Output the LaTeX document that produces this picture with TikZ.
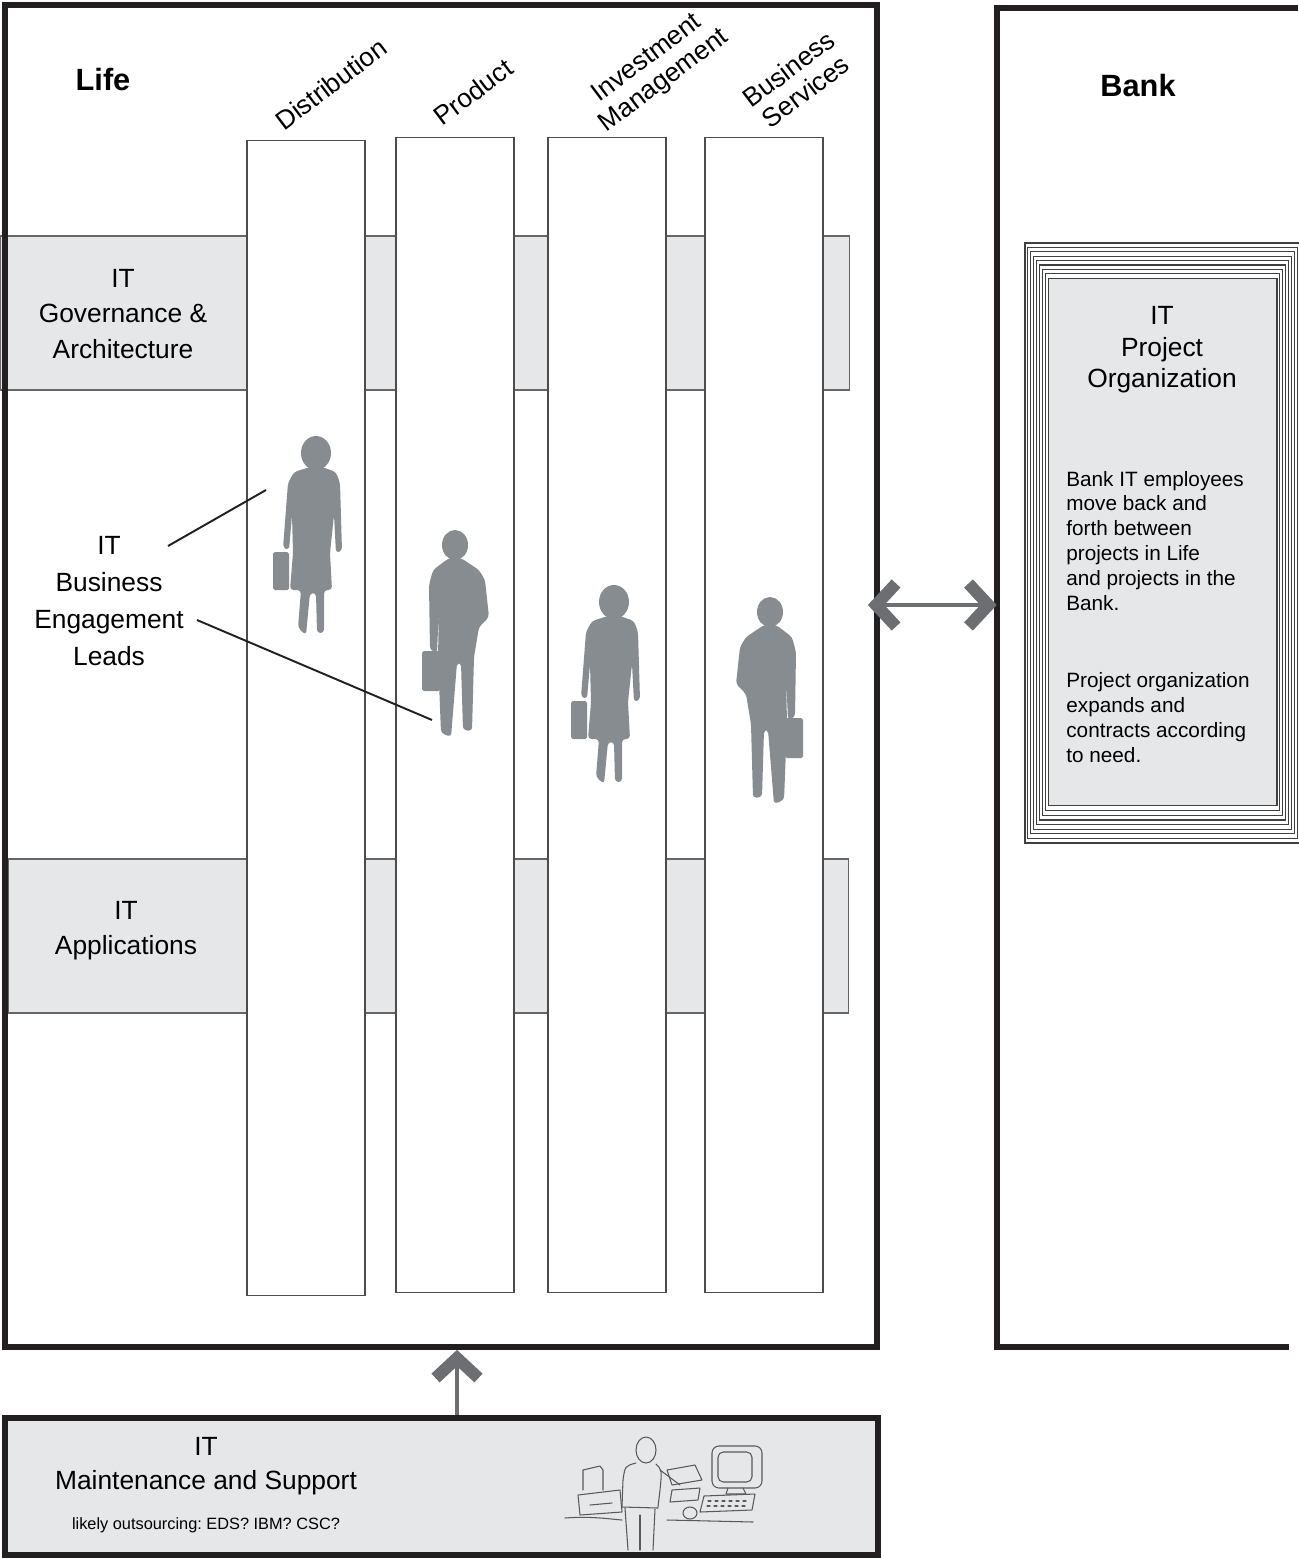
\documentclass[tikz,border=0pt]{standalone}
\usepackage{fontspec}
\setmainfont{Liberation Sans}
\usetikzlibrary{arrows.meta,positioning,calc}

\definecolor{bandgray}{HTML}{E6E7E8}
\definecolor{figgray}{HTML}{878C91}
\definecolor{arrowgray}{HTML}{6D6E71}
\definecolor{framek}{HTML}{231F20}
\definecolor{sketchk}{HTML}{58595B}

\tikzset{
  frame/.style = {draw=framek, line width=3.4pt, inner sep=0},
  band/.style  = {draw=black!60, fill=bandgray, line width=0.6pt,
                  minimum height=3.08cm, inner sep=0},
  col/.style   = {draw=black!70, fill=white, line width=0.6pt,
                  minimum width=2.36cm, minimum height=23.12cm, inner sep=0},
  head/.style  = {font=\fontsize{15}{20}\selectfont, align=center},
  note/.style  = {font=\fontsize{11.8}{14.2}\selectfont, align=left},
  title/.style = {font=\fontsize{17.5}{20}\selectfont\bfseries},
  tag/.style   = {font=\fontsize{15}{16}\selectfont, align=center, rotate=37},
  ring/.style  = {draw=black!75, line width=0.6pt},
  lead/.style  = {draw=framek, line width=1.1pt},
  chev/.tip    = {Straight Barb[length=4mm, width=8.6mm, line width=2.4mm]},
  ar/.style    = {draw=arrowgray, line width=2.8pt},
  sketch/.style= {draw=sketchk, line width=0.6pt, line cap=round, line join=round},
  % walking figures, origin at the head
  woman/.pic = {
    \fill[figgray] (0,0) ellipse [x radius=15, y radius=17];
    \fill[figgray, rounded corners=2pt]
      (-6,14) -- (-22,19) -- (-28,30) -- (-33,95) -- (-27,97) -- (-24,62)
      -- (-23,100) -- (-26,137) -- (-15,137) -- (-18,175) -- (-10,182)
      -- (-6,140) -- (0,140) -- (1,180) -- (8,180) -- (8,137) -- (16,137)
      -- (14,100) -- (18,62) -- (20,100) -- (26,98) -- (24,30) -- (20,19)
      -- (6,14) -- cycle;
    \fill[figgray, rounded corners=1pt] (-43,99) rectangle (-27,137);
  },
  man/.pic = {
    \fill[figgray] (0,0) ellipse [x radius=13, y radius=15];
    \fill[figgray, rounded corners=2pt]
      (-6,13) -- (-22,25) -- (-26,40) -- (-25,105) -- (-18,108) -- (-16,62)
      -- (-17,112) -- (-14,188) -- (-4,192) -- (2,118) -- (6,118)
      -- (8,185) -- (17,186) -- (19,112) -- (24,82) -- (34,72) -- (30,35)
      -- (24,25) -- (6,13) -- cycle;
    \fill[figgray, rounded corners=1pt] (-33,106) rectangle (-15,146);
  }
}

\begin{document}
\frenchspacing
\begin{tikzpicture}[x=0.02cm, y=-0.02cm]
  \useasboundingbox (0,0) rectangle (1298,1558);

  % horizontal IT bands behind the columns
  \node[band, minimum width=17cm]    (gov)  at (425,313) {};
  \node[band, minimum width=16.82cm] (apps) at (428.5,936) {};

  % business columns
  \node[col] (dist) at (306,718) {};
  \node[col] (prod) at (455,715) {};
  \node[col] (inv)  at (607,715) {};
  \node[col] (bus)  at (764,715) {};

  \node[tag] (disttag) at (331,84) {Distribution};
  \node[tag] (prodtag) at (473,92) {Product};
  \node[tag] (invtag)  at (656,70) {Investment\\Management};
  \node[tag] (bustag)  at (797,80) {Business\\Services};

  % Life frame
  \node[frame, minimum width=17.44cm, minimum height=26.84cm] (life) at (441,676) {};
  \node[title] (lifetitle) at (103,80) {Life};

  \node[head] (govtext)  at (123,314) {IT\\Governance \&\\Architecture};
  \node[head] (appstext) at (126,931) {IT\\Applications};
  \node[head, font=\fontsize{15}{21}\selectfont] (leads) at (109,601)
    {IT\\Business\\Engagement\\Leads};

  % engagement leads walking through the columns
  \pic at (316,453) {woman};
  \pic at (455,545) {man};
  \pic at (614,602) {woman};
  \pic[xscale=-1] at (770,612) {man};

  \coordinate (l1a) at (168,546);
  \coordinate (l1b) at (266,490);
  \coordinate (l2a) at (197,620);
  \coordinate (l2b) at (432,720);
  \draw[lead] (l1a) -- (l1b);
  \draw[lead] (l2a) -- (l2b);

  % Bank, open to the right
  \node[minimum width=6.02cm, minimum height=26.78cm, inner sep=0] (bank) at (1147.5,677.5) {};
  \draw[frame] (bank.north east) -- (bank.north west) -- (bank.south west) -- ++(292,0);
  \node[title] (banktitle) at (1138,86) {Bank};

  % project organization, stacked frames
  \foreach \i in {0,...,7}
    \draw[ring] ({1025+2.9*\i},{243+4.4*\i}) rectangle ({1300-2.9*\i},{843-4.6*\i});
  \node[ring, fill=bandgray, minimum width=4.58cm, minimum height=10.56cm] (proj) at (1162.5,542) {};
  \node[head, font=\fontsize{15}{18}\selectfont] (projtitle) at (1162,350) {IT\\Project\\Organization};
  \node[note, anchor=west, inner sep=0] (projnote1) at (1066,541)
    {Bank IT employees\\move back and\\forth between\\projects in Life\\and projects in the\\Bank.};
  \node[note, anchor=west, inner sep=0] (projnote2) at (1066,718)
    {Project organization\\expands and\\contracts according\\to need.};

  \coordinate (swap) at (0,605);
  \draw[ar, chev-chev, shorten <=-0.24cm] (life.east |- swap) -- (bank.west |- swap);

  % maintenance and support
  \node[frame, fill=bandgray, minimum width=17.46cm, minimum height=2.74cm] (maint) at (441.5,1486.5) {};
  \node[head] (mainttitle) at (206,1446) {IT};
  \node[head] (maintsub) at (206,1483) {Maintenance and Support};
  \node[note, font=\fontsize{9.3}{12}\selectfont] (maintnote) at (206,1525) {likely outsourcing: EDS? IBM? CSC?};

  \coordinate (feed) at (457,0);
  \draw[ar, -chev] (maint.north -| feed) -- (life.south -| feed);

  % sketch of a desk with computer
  \begin{scope}[sketch]
    \draw (565,1518) .. controls (590,1516) and (610,1519) .. (622,1520);
    \draw (667,1520) -- (753,1522);
    \draw (583,1490) -- (583,1470) -- (600,1466) -- (603,1470) -- (603,1490);
    \draw (578,1495) -- (620,1490) -- (622,1512) -- (580,1515) -- cycle;
    \draw (590,1505) -- (612,1503);
    \draw[rounded corners=4] (712,1446) rectangle (762,1488);
    \draw[rounded corners=3] (718,1452) rectangle (752,1482);
    \draw (728,1488) -- (726,1494) -- (746,1494) -- (743,1488);
    \draw (704,1496) -- (755,1494) -- (752,1510) -- (700,1512) -- cycle;
    \foreach \k in {0,...,5}
      \draw ({708+7*\k},1501) -- ({711+7*\k},1501) ({707+7*\k},1506) -- ({710+7*\k},1506);
    \draw (646,1450) ellipse [x radius=10, y radius=13];
    \draw (636,1463) .. controls (625,1466) .. (623,1480) -- (622,1507);
    \draw (656,1464) .. controls (662,1470) .. (660,1490) -- (658,1507);
    \draw (660,1470) -- (680,1485);
    \draw (622,1507) -- (658,1508);
    \draw (625,1508) -- (628,1550);
    \draw (655,1509) -- (653,1550);
    \draw (640,1515) -- (640,1550);
    \draw (667,1470) -- (695,1465) -- (702,1480) -- (672,1485) -- cycle;
    \draw (672,1490) -- (700,1488) -- (698,1500) -- (670,1502) -- cycle;
    \draw (690,1513) ellipse [x radius=7, y radius=6];
  \end{scope}
\end{tikzpicture}
\end{document}
